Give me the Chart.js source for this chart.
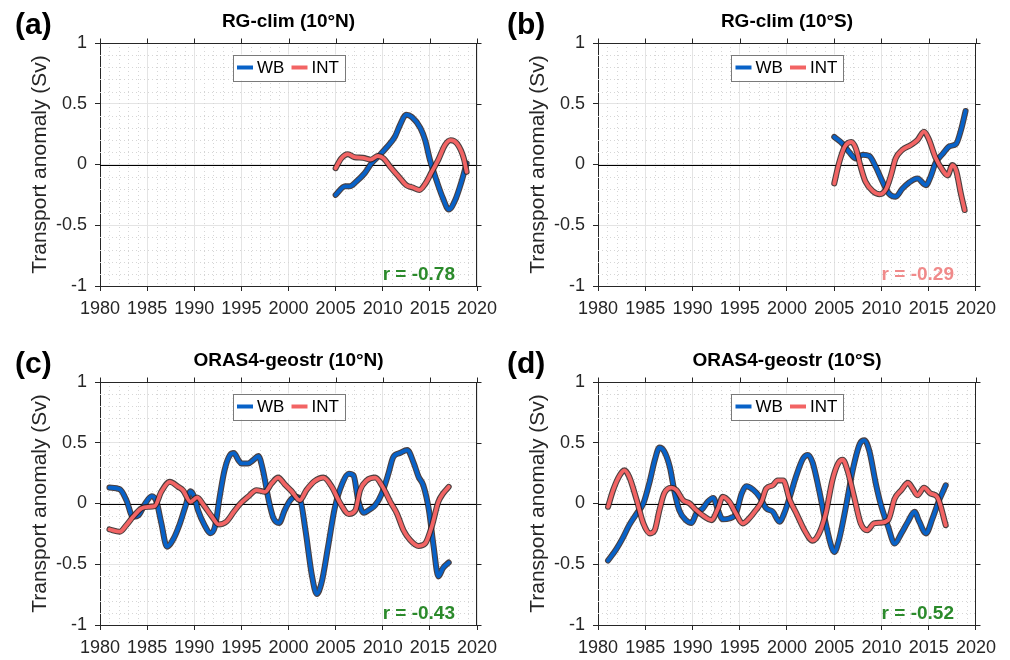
<!DOCTYPE html>
<html>
<head>
<meta charset="utf-8">
<script src="https://cdn.jsdelivr.net/npm/chart.js@4"></script>
<style>
  body { margin: 0; width: 1010px; height: 660px; overflow: hidden; background: #fff; position: relative; }
  canvas { position: absolute; }
</style>
</head>
<body>
<canvas id="pa" width="505" height="330" style="left:0;top:0"></canvas>
<canvas id="pb" width="505" height="330" style="left:498px;top:0"></canvas>
<canvas id="pc" width="505" height="330" style="left:0;top:339px"></canvas>
<canvas id="pd" width="505" height="330" style="left:498px;top:339px"></canvas>
<script>
// values as [year, Sv]
const xTicks = [1980, 1985, 1990, 1995, 2000, 2005, 2010, 2015, 2020];
const yTicks = [-1, -0.5, 0, 0.5, 1];

// (a) RG-clim 10N
const aWB = [[2005.0,-0.25],[2006.0,-0.18],[2006.5,-0.18],[2007.2,-0.14],[2008.1,-0.07],[2008.8,0.01],[2009.7,0.08],[2010.4,0.14],[2011.3,0.23],[2011.8,0.32],[2012.5,0.41],[2013.1,0.39],[2014.0,0.30],[2014.5,0.20],[2015.0,0.04],[2015.7,-0.13],[2016.4,-0.28],[2017.0,-0.37],[2017.7,-0.29],[2018.4,-0.13],[2018.9,0.01]];
const aINT = [[2005.0,-0.03],[2005.6,0.05],[2006.3,0.085],[2007.0,0.06],[2007.9,0.055],[2008.7,0.04],[2009.5,0.07],[2010.1,0.05],[2010.8,-0.02],[2011.7,-0.10],[2012.5,-0.17],[2013.2,-0.19],[2013.9,-0.21],[2014.5,-0.16],[2015.2,-0.06],[2015.9,0.04],[2016.6,0.16],[2017.2,0.20],[2017.9,0.17],[2018.6,0.05],[2018.9,-0.06]];

// (b) RG-clim 10S
const bWB = [[2005.0,0.227],[2005.9,0.17],[2006.6,0.10],[2007.3,0.05],[2008.0,0.08],[2008.7,0.07],[2009.4,-0.02],[2010.1,-0.14],[2010.8,-0.24],[2011.5,-0.265],[2012.2,-0.20],[2012.9,-0.15],[2013.8,-0.115],[2014.7,-0.17],[2015.2,-0.10],[2015.7,0.01],[2016.5,0.09],[2017.2,0.15],[2017.9,0.17],[2018.4,0.28],[2018.9,0.44]];
const bINT = [[2005.0,-0.156],[2005.5,0.01],[2006.1,0.145],[2006.8,0.185],[2007.3,0.13],[2007.8,-0.02],[2008.3,-0.14],[2009.1,-0.22],[2009.8,-0.245],[2010.5,-0.20],[2011.0,-0.09],[2011.5,0.05],[2012.2,0.12],[2013.1,0.16],[2013.8,0.20],[2014.5,0.27],[2015.0,0.21],[2015.7,0.06],[2016.5,-0.05],[2017.0,-0.09],[2017.5,-0.005],[2017.9,-0.05],[2018.4,-0.24],[2018.8,-0.375]];

// (c) ORAS4-geostr 10N
const cWB = [[1981.0,0.131],[1982.1,0.117],[1982.8,0.027],[1983.5,-0.11],[1984.1,-0.096],[1984.8,0.0],[1985.5,0.06],[1986.0,0.014],[1986.5,-0.16],[1987.1,-0.355],[1987.8,-0.29],[1988.5,-0.16],[1989.1,-0.014],[1989.6,0.10],[1990.0,0.055],[1990.4,-0.055],[1991.1,-0.18],[1991.7,-0.245],[1992.2,-0.19],[1992.7,0.055],[1993.2,0.27],[1993.8,0.40],[1994.2,0.415],[1994.7,0.355],[1995.0,0.33],[1995.7,0.33],[1996.3,0.36],[1996.8,0.39],[1997.3,0.27],[1997.9,0.027],[1998.4,-0.12],[1999.0,-0.16],[1999.6,-0.055],[2000.2,0.027],[2000.7,0.055],[2001.2,0.04],[2001.8,-0.22],[2002.5,-0.60],[2003.0,-0.745],[2003.5,-0.655],[2004.2,-0.355],[2004.9,-0.04],[2005.7,0.164],[2006.4,0.245],[2006.9,0.23],[2007.4,0.027],[2008.0,-0.077],[2008.5,-0.055],[2009.2,-0.014],[2009.9,0.082],[2010.6,0.245],[2011.1,0.38],[2011.8,0.415],[2012.6,0.44],[2013.3,0.33],[2013.8,0.22],[2014.3,0.15],[2014.9,-0.055],[2015.4,-0.355],[2015.9,-0.60],[2016.4,-0.53],[2017.0,-0.486]];
const cINT = [[1981.0,-0.213],[1982.1,-0.232],[1982.8,-0.178],[1983.5,-0.11],[1984.4,-0.04],[1985.1,-0.027],[1985.8,-0.022],[1986.5,0.096],[1987.4,0.178],[1988.3,0.137],[1988.8,0.11],[1989.6,0.014],[1990.3,0.05],[1991.0,-0.014],[1991.9,-0.11],[1992.6,-0.172],[1993.4,-0.15],[1994.2,-0.068],[1994.9,0.0],[1995.7,0.055],[1996.6,0.11],[1997.5,0.096],[1998.2,0.164],[1998.9,0.213],[1999.6,0.158],[2000.3,0.104],[2001.2,0.027],[2001.9,0.11],[2002.8,0.186],[2003.7,0.213],[2004.6,0.137],[2005.5,0.0],[2006.4,-0.087],[2007.1,-0.055],[2007.6,0.11],[2008.3,0.19],[2009.2,0.213],[2009.9,0.15],[2010.8,0.014],[2011.5,-0.082],[2012.2,-0.22],[2012.9,-0.30],[2013.8,-0.35],[2014.5,-0.33],[2015.2,-0.19],[2015.9,0.014],[2016.4,0.082],[2017.0,0.137]];

// (d) ORAS4-geostr 10S
const dWB = [[1981.06,-0.47],[1981.9,-0.38],[1982.6,-0.287],[1983.3,-0.178],[1984.1,-0.082],[1984.8,0.0],[1985.5,0.19],[1986.0,0.355],[1986.5,0.46],[1987.0,0.43],[1987.6,0.30],[1988.1,0.096],[1988.6,-0.055],[1989.3,-0.137],[1989.9,-0.16],[1990.4,-0.082],[1991.1,-0.04],[1991.6,0.014],[1992.2,0.046],[1992.7,-0.055],[1993.2,-0.13],[1993.9,-0.123],[1994.6,-0.082],[1995.2,0.082],[1995.7,0.142],[1996.4,0.115],[1997.1,0.055],[1997.8,-0.04],[1998.5,-0.068],[1999.2,-0.15],[1999.7,-0.082],[2000.3,0.055],[2001.0,0.232],[2001.7,0.37],[2002.2,0.40],[2002.7,0.34],[2003.4,0.11],[2004.1,-0.164],[2004.7,-0.355],[2005.0,-0.40],[2005.5,-0.30],[2006.3,0.0],[2006.95,0.273],[2007.7,0.49],[2008.2,0.52],[2008.7,0.437],[2009.4,0.164],[2009.9,0.0],[2010.7,-0.19],[2011.4,-0.33],[2012.1,-0.246],[2012.8,-0.15],[2013.5,-0.068],[2014.0,-0.15],[2014.7,-0.246],[2015.4,-0.123],[2016.1,0.027],[2016.8,0.15]];
const dINT = [[1981.06,-0.027],[1981.6,0.11],[1982.3,0.232],[1982.8,0.273],[1983.3,0.22],[1984.1,0.027],[1984.8,-0.164],[1985.5,-0.246],[1986.0,-0.22],[1986.5,-0.055],[1987.0,0.082],[1987.75,0.13],[1988.3,0.11],[1989.0,0.027],[1989.7,0.0],[1990.4,-0.055],[1991.3,-0.11],[1992.0,-0.137],[1992.7,-0.04],[1993.2,0.055],[1993.9,0.014],[1994.6,-0.082],[1995.3,-0.164],[1996.0,-0.123],[1996.7,-0.055],[1997.3,0.014],[1997.8,0.123],[1998.5,0.15],[1999.0,0.19],[1999.6,0.19],[2000.3,0.027],[2001.0,-0.082],[2001.85,-0.22],[2002.7,-0.306],[2003.4,-0.246],[2004.1,-0.082],[2004.8,0.19],[2005.4,0.328],[2005.9,0.36],[2006.4,0.273],[2007.1,0.055],[2007.8,-0.164],[2008.5,-0.22],[2009.2,-0.164],[2009.9,-0.158],[2010.7,-0.137],[2011.4,0.04],[2012.1,0.11],[2012.8,0.17],[2013.3,0.123],[2013.8,0.068],[2014.5,0.13],[2015.2,0.082],[2015.9,0.055],[2016.8,-0.178]];

const panels = [
  { id: 'pa', tag: '(a)', title: 'RG-clim (10°N)', wb: aWB, int: aINT, r: 'r = -0.78', rColor: '#2b8a2b', padRight: 28, tagX: 15 },
  { id: 'pb', tag: '(b)', title: 'RG-clim (10°S)', wb: bWB, int: bINT, r: 'r = -0.29', rColor: '#f08a8a', padRight: 26, tagX: 9 },
  { id: 'pc', tag: '(c)', title: 'ORAS4-geostr (10°N)', wb: cWB, int: cINT, r: 'r = -0.43', rColor: '#2b8a2b', padRight: 28, tagX: 15 },
  { id: 'pd', tag: '(d)', title: 'ORAS4-geostr (10°S)', wb: dWB, int: dINT, r: 'r = -0.52', rColor: '#2b8a2b', padRight: 26, tagX: 9 },
];

const WB_COLOR = '#0862c8';
const INT_COLOR = '#f26464';
const EDGE = 'rgba(45,30,30,0.85)';
const FONT = '"Liberation Sans", Arial, sans-serif';

const toXY = (arr) => arr.map(([x, y]) => ({ x: x, y: y }));

// minor grid, zero line, box, legend, titles
const deco = {
  id: 'deco',
  beforeDatasetsDraw(chart) {
    const { ctx, chartArea: ca, scales: { x, y } } = chart;
    ctx.save();
    ctx.strokeStyle = '#d6d6d6';
    ctx.lineWidth = 1;
    ctx.setLineDash([1, 3]);
    ctx.beginPath();
    for (let yr = 1981; yr < 2020; yr++) {
      if (yr % 5 === 0) continue;
      const px = Math.round(x.getPixelForValue(yr)) + 0.5;
      ctx.moveTo(px, ca.top);
      ctx.lineTo(px, ca.bottom);
    }
    for (let k = -9; k <= 9; k++) {
      if (k % 5 === 0) continue;
      const py = Math.round(y.getPixelForValue(k / 10)) + 0.5;
      ctx.moveTo(ca.left, py);
      ctx.lineTo(ca.right, py);
    }
    ctx.stroke();
    ctx.setLineDash([]);
    // zero line
    const z = Math.round(y.getPixelForValue(0)) + 0.5;
    ctx.strokeStyle = '#000';
    ctx.beginPath();
    ctx.moveTo(ca.left, z);
    ctx.lineTo(ca.right, z);
    ctx.stroke();
    ctx.restore();
  },
  afterDraw(chart, args, o) {
    const { ctx, chartArea: ca, scales: { x, y } } = chart;
    ctx.save();
    // top and right box edges with outward ticks
    ctx.strokeStyle = '#262626';
    ctx.lineWidth = 1;
    ctx.beginPath();
    const t = Math.round(ca.top) + 0.5, r = Math.round(ca.right) - 0.5;
    ctx.moveTo(ca.left, t); ctx.lineTo(ca.right, t);
    ctx.moveTo(r, ca.top); ctx.lineTo(r, ca.bottom);
    xTicks.forEach((v) => {
      const px = Math.round(x.getPixelForValue(v)) + 0.5;
      ctx.moveTo(px, t); ctx.lineTo(px, t - 5);
    });
    yTicks.forEach((v) => {
      const py = Math.round(y.getPixelForValue(v)) + 0.5;
      ctx.moveTo(r, py); ctx.lineTo(r + 5, py);
    });
    ctx.stroke();

    // legend box
    const cx = (ca.left + ca.right) / 2;
    const lx = cx - 56, ly = ca.top + 11.5;
    ctx.fillStyle = '#fff';
    ctx.fillRect(lx, ly, 112, 26);
    ctx.strokeStyle = '#7a7a7a';
    ctx.strokeRect(Math.round(lx) + 0.5, Math.round(ly) + 0.5, 112, 26);
    const my = ly + 13;
    ctx.lineWidth = 4;
    ctx.strokeStyle = WB_COLOR;
    ctx.beginPath(); ctx.moveTo(lx + 4.5, my); ctx.lineTo(lx + 20.5, my); ctx.stroke();
    ctx.strokeStyle = INT_COLOR;
    ctx.beginPath(); ctx.moveTo(lx + 59, my); ctx.lineTo(lx + 75, my); ctx.stroke();
    ctx.fillStyle = '#000';
    ctx.font = '17px ' + FONT;
    ctx.textBaseline = 'middle';
    ctx.textAlign = 'left';
    ctx.fillText('WB', lx + 24.5, my + 1);
    ctx.fillText('INT', lx + 79, my + 1);

    // title
    ctx.font = 'bold 19px ' + FONT;
    ctx.textAlign = 'center';
    ctx.fillText(o.title, cx, 21.5);
    // panel tag
    ctx.font = 'bold 30px ' + FONT;
    ctx.textAlign = 'left';
    ctx.fillText(o.tag, o.tagX, 26);
    // correlation
    ctx.font = 'bold 19px ' + FONT;
    ctx.textAlign = 'right';
    ctx.textBaseline = 'alphabetic';
    ctx.fillStyle = o.rColor;
    ctx.fillText(o.r, ca.right - 22, ca.bottom - 6);
    ctx.restore();
  },
};

function makeChart(p) {
  const ctx = document.getElementById(p.id).getContext('2d');
  const line = (data, color, width, order) => ({
    data: toXY(data),
    borderColor: color,
    borderWidth: width,
    pointRadius: 0,
    cubicInterpolationMode: 'monotone',
    borderCapStyle: 'round',
    borderJoinStyle: 'round',
    fill: false,
    order: order,
  });
  new Chart(ctx, {
    type: 'line',
    data: {
      datasets: [
        line(p.wb, EDGE, 6, 4),
        line(p.wb, WB_COLOR, 3.8, 3),
        line(p.int, EDGE, 6, 2),
        line(p.int, INT_COLOR, 3.8, 1),
      ],
    },
    plugins: [deco],
    options: {
      responsive: false,
      animation: false,
      layout: { padding: { left: 0, right: p.padRight, top: 43, bottom: 0 } },
      plugins: {
        legend: { display: false },
        tooltip: { enabled: false },
        deco: { title: p.title, tag: p.tag, tagX: p.tagX, r: p.r, rColor: p.rColor },
      },
      scales: {
        x: {
          type: 'linear',
          min: 1980,
          max: 2020,
          afterFit: (s) => { s.height = 44; },
          afterBuildTicks: (s) => { s.ticks = xTicks.map((v) => ({ value: v })); },
          ticks: {
            color: '#262626',
            font: { family: FONT, size: 18 },
            padding: 7,
            maxRotation: 0,
            autoSkip: false,
            callback: (v) => String(v),
          },
          grid: { color: '#e4e4e4', tickLength: 5, tickColor: '#262626' },
          border: { color: '#262626', width: 1 },
        },
        y: {
          min: -1,
          max: 1,
          afterFit: (s) => { s.width = 100; },
          afterBuildTicks: (s) => { s.ticks = yTicks.map((v) => ({ value: v })); },
          ticks: {
            color: '#262626',
            font: { family: FONT, size: 18 },
            padding: 8,
            callback: (v) => String(v),
          },
          grid: { color: '#e4e4e4', tickLength: 5, tickColor: '#262626' },
          border: { color: '#262626', width: 1 },
          title: {
            display: true,
            text: 'Transport anomaly (Sv)',
            color: '#262626',
            font: { family: FONT, size: 21 },
            padding: { top: 28, bottom: 0 },
          },
        },
      },
    },
  });
}

panels.forEach(makeChart);
</script>
</body>
</html>
